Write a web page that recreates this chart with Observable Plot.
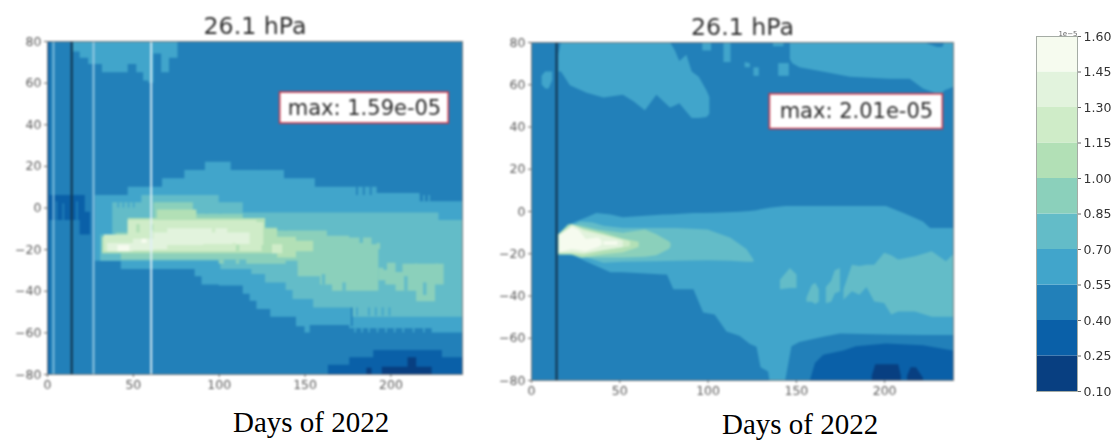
<!DOCTYPE html>
<html><head><meta charset="utf-8">
<script src="https://cdn.jsdelivr.net/npm/d3@7"></script>
<script src="https://cdn.jsdelivr.net/npm/@observablehq/plot@0.6"></script>
<style>
html,body{margin:0;padding:0;background:#fff}
#stage{position:relative;width:1112px;height:442px;overflow:hidden}
#stage>svg,#stage>div.p{position:absolute}
.cap{position:absolute;font-family:"Liberation Serif",serif;font-size:29px;line-height:32px;color:#000;white-space:nowrap}
</style></head><body><div id="stage"></div>
<script>
// colour levels
const levelLower=[0.10,0.25,0.40,0.55,0.70,0.85,1.00,1.15,1.30,1.45];
const levelColors=["#083f81","#0a60a8","#2280b9","#41a5cb","#63bcc8","#8bd0bb","#b2e0b6","#cfecc8","#e2f3dd","#f6fbef"];
const barTicks=[0.10,0.25,0.40,0.55,0.70,0.85,1.00,1.15,1.30,1.45,1.60];
const latTicks=[-80,-60,-40,-20,0,20,40,60,80];
const dayTicks=[0,50,100,150,200];

// LEFT panel: [day, lower lat, upper lat], stepped
const L55cap=[[15,75,80],[19,72,80],[24,69,80],[32,65,80],[47,69,80],[52,65,80],[56,61,80],[59,60,80],[62,74,80],[66.5,65,80],[71,72,80],[76,72,80]];
const L55main=[[28,-25.6,6],[43,-29.6,6],[47,-29.6,10],[67,-29.6,14],[80,-29.6,18],[86,-33,18],[90,-37,18],[92,-37,22],[100,-37.5,22],[107,-37.5,18],[114,-41.5,18],[118,-44.8,18],[122,-48.8,18],[130,-52.5,18],[138,-52.5,14],[145,-57,14],[150,-60,14],[153,-56.5,14],[156,-56.5,10],[176,-58,10],[192,-58,7],[217,-58,3],[224,-60,3],[241.7,-60,3]];
const L70main=[[31,-25.6,-13],[38,-25.6,2.5],[55,-25.6,6],[100,-25.6,2.5],[101,-29.6,2.5],[114,-29.6,-2.4],[119,-32,-2.4],[127,-36,-2.4],[139,-39.6,-2.4],[143,-44,-2.4],[155,-48,-2.4],[178,-52.5,-2.4],[228,-52.5,-6],[241.7,-52.5,-6]];
const L85main=[[33,-22,-14.4],[40,-22,-12],[43,-25,-12],[47,-25,-6.4],[62,-25,2.5],[85,-25,-3],[114,-25,-6.4],[116,-27,-6.4],[127,-27,-9.6],[134,-27,-11],[139,-25.6,-11],[146,-33,-11],[159,-37,-11],[163,-37,-13.6],[166,-40,-13.6],[176,-40,-14.4],[189,-40,-17.6],[193,-40,-17.6]];
const L85east=[[193,-35,-29],[197,-37,-26.5],[203,-40,-31],[207,-40,-27],[215,-45,-27],[226,-37,-27],[231,-37,-27]];
const L100main=[[32,-22,-14],[47,-22,-5],[64,-22,-1],[87,-22,-5],[127,-22,-10],[134,-24,-14],[145,-21,-16],[155,-21,-16]];
const L115main=[[33,-21,-13],[47,-21,-6],[122,-21,-7],[126,-21,-7]];
const L115spot=[[131,-22,-17.6],[137,-22,-17.6]];
const L130main=[[35,-21,-17],[50,-20.5,-15],[62,-20,-12],[70,-18,-10],[91,-17.5,-10],[105,-17.5,-12],[118,-17,-12]];
const L145a=[[41,-21,-18],[48,-21,-18]];
const L145b=[[55,-17,-15],[58,-17,-15]];
const L25blob=[[0,-6,6],[19,-13,6],[22,-13,-2],[25,-13,-2]];
const L25edge=[[0,-80,80],[1.6,-80,80]];
const L25south=[[163.6,-80,-75.6],[176,-80,-72],[190,-80,-68.5],[230,-80,-72],[241.7,-80,-72]];
const L10south=[[195,-80,-76.5],[210,-80,-72],[215,-80,-76.5],[224,-80,-76.5]];
const L10spot=[[186,-80,-77],[189,-80,-77]];
const leftRules=[{d:3.5,c:"#8cc6e2",w:1.6},{d:14.1,c:"#123a55",w:2.2},{d:26.8,c:"#9bcde4",w:1.8},{d:60.4,c:"#e0f0f7",w:1.8}];
// single-column speckles: [first day, last day, lower lat, upper lat]
const L40speck=[[5,6,-6,3],[9,10,-6,2],[17,18,-6,3],[177,178,-57,-44],[180,181,10,6],[184,185,10,6],[188,189,10,6],[122.5,123.5,22,18]];
const L55speck=[[41,42,0,2.5],[44,45,0,2.5],[47,48,0,2.5],[50,51,0,2.5],[180,181,-52,-48],[187,188,-52,-48],[191,192,-52,-48],[195,196,-52,-48],[199,200,-52,-48],[216,217,3,6],[219,220,3,6],[222,223,3,6],[179,180,-60,-57],[183,184,-60,-57],[187,188,-60,-57],[192,193,-60,-57],[197,198,-60,-57],[202,203,-60,-57],[207,208,-60,-57],[213,214,-60,-57],[219,220,-60,-57]];
const L70speck=[[92,94,-3,0],[100,102,-3,-1],[138,140,-11,-6],[176,178,-14,-11],[182,184,-17,-14],[208,210,-40,-33],[219,221,-42,-36],[196,198,-30,-26],[160,162,-37,-32],[172,174,-40,-36]];
const L85speck=[[146,148,-28,-25],[152,154,-30,-27],[192,194,-20,-17],[100,103,-27,-25],[110,112,-27,-25],[190,192,-38,-33],[214,216,-30,-27],[226,228,-30,-27]];
const L115speck=[[76,78,-8,-6],[96,98,-12,-9],[108,110,-20,-17],[120,122,-17,-13]];
const L100speck=[[52,54,-12,-8],[60,62,-11,-8],[110,112,-21,-18],[125,127,-21,-18]];

// RIGHT panel: [day, lower lat, upper lat], linear
const R55patch=[[6,60,64],[8,58,66],[10,58,66],[12,62,66]];
const R55cap=[[15.5,66,74],[17,66,80],[22,59.5,80],[31.5,56,80],[41,53.7,80],[52,55,80],[58,52,80],[64.5,47.7,80],[71,55,80],[78.7,49,80],[81.5,50,76],[84,51,71],[88,47,74],[91,44,66],[95,44,63.5],[99.4,44.5,57],[101,46,54]];
const R55bits=[[[97,76,80],[102,76,80]],[[109,70.5,80],[113,70.5,80]],[[121,68,70.5],[124,68,70]],[[126,64,68],[129,64,68]],[[140,64,70],[146,64,70]],[[137,78,80],[143,78,80]]];
const R55capE=[[146.6,72,80],[148,70,80],[152,68,80],[165,66,80],[180.6,63.5,80],[203,62.6,80],[214.5,62.6,80],[222,58,80],[230,55.5,77.6],[233,56,77.6],[234,57,80],[239,58.7,80]];
const R55main=[[15.5,-20.6,-12],[24,-21,-5.5],[31.5,-24,-3],[37,-26,-1],[45,-29,-1.6],[52,-29,-3],[75,-30,-1.6],[77,-30,-1.6],[80.6,-37,-1.5],[92,-37,-1],[97.5,-48,-1],[104,-49,-0.8],[110.7,-57,-0.6],[118,-59,-0.3],[124,-63,0],[127.7,-64.3,0.4],[130,-74,0.8],[134.3,-76,1.4],[135,-80,1.5],[144,-80,2.4],[147.5,-64,2.4],[152,-62,2.4],[165.5,-59.5,2.4],[175,-58,2.4],[201,-58.5,2.4],[211,-58.6,-1],[222,-58.7,-5],[226,-58.7,-8],[239,-58.7,-8]];
const R70plume=[[15.5,-20.6,-12],[20,-20.8,-8],[27.7,-21,-5],[35,-23,-5.5],[41,-24.5,-7],[52,-24,-8],[71,-23.8,-8],[82.5,-23.5,-8],[100,-23.3,-8.7],[113,-23.5,-12.7],[122,-24,-18],[126,-24,-23]];
const R70a=[[141,-37,-32.5],[146.6,-36.5,-27],[150.4,-36.5,-30]];
const R70b=[[156,-43,-41],[159,-43,-35],[161,-44,-34],[163,-43,-37]];
const R70c=[[167,-43.7,-36],[170,-43,-33],[172,-39,-28],[175,-38,-27]];
const R70main=[[177,-42,-37],[181.7,-38,-25.4],[186,-39.7,-26],[190,-36,-25.4],[194.4,-42.8,-25.4],[200,-43.5,-19.8],[204,-49,-21],[208,-47.6,-23],[217.4,-47.6,-21.4],[227,-50,-19],[235,-50,-23.8],[239,-50,-20.6]];
const R85=[[15.5,-19.8,-11],[21,-20,-6.3],[27.7,-22,-6.8],[38,-22,-8.7],[52,-22,-10.3],[64.5,-21.7,-8.7],[71,-21,-11],[78,-18,-14.3],[79,-17,-15]];
const R100=[[15.5,-20.6,-11],[22.6,-20.5,-6],[29,-22,-8],[41,-20.5,-10.3],[52,-19.5,-13],[61,-17,-14.6]];
const R115=[[15.5,-20,-11],[23,-20,-6.3],[29.6,-20.6,-8.4],[41,-18.6,-11],[56,-16.7,-14.3]];
const R130=[[16,-19.5,-11.5],[24,-19.5,-6.8],[30,-20,-9.5],[41,-18.5,-11.5],[52,-17,-14]];
const R145=[[16,-19.5,-11.5],[23,-18,-7.5],[27,-18.5,-9],[31,-19,-13.3],[38,-17,-12.5],[40,-16,-14]];
const R145b=[[41,-16,-14.3],[49,-16,-14.3]];
const R25south=[[158,-80,-80],[160.8,-80,-72],[165.5,-80,-68],[176.8,-80,-66],[184,-80,-64],[201,-80,-62.7],[222,-80,-63.5],[239,-80,-66]];
const R10a=[[193,-80,-78],[195,-80,-72.5],[208,-80,-72.5],[209.5,-80,-78]];
const R10b=[[213,-80,-78],[215,-80,-74],[218,-80,-74],[222,-80,-79]];
const rightRules=[{d:14.2,c:"#123a55",w:2.2}];

const colorOpt={type:"threshold",domain:levelLower.slice(1),range:levelColors};
const toRows=(arr,v)=>arr.map(([d,lo,hi])=>({d,lo,hi,v}));
const layer=(arr,v,curve)=>Plot.area(toRows(arr,v),{x1:"d",y1:"lo",y2:"hi",fill:"v",curve});
const speck=(arr,v)=>Plot.rect(arr.map(([a,b,lo,hi])=>({a,b,lo,hi,v})),{x1:"a",x2:"b",y1:"lo",y2:"hi",fill:"v"});
const tickStyle={fontFamily:"DejaVu Sans",fontSize:"12.5px",color:"#5a5a5a",background:"transparent",overflow:"visible"};
const blur="blur(0.9px)";

function panel({left,top,width,height,ml,mr,mt,mb,xMax,base,layers,rules,box,label}){
  const svg=Plot.plot({
    width,height,marginLeft:ml,marginRight:mr,marginTop:mt,marginBottom:mb,
    style:tickStyle,
    x:{domain:[0,xMax]},y:{domain:[-80,80]},color:colorOpt,
    marks:[
      Plot.rect([base],{x1:0,x2:xMax,y1:-80,y2:80,fill:d=>d}),
      ...layers,
      Plot.ruleX(rules,{x:"d",stroke:"c",strokeWidth:"w"}),
      Plot.frame({stroke:"#7d7d7d"}),
      Plot.axisX({ticks:dayTicks,tickSize:3,tickPadding:3,label:null,stroke:"#666",fill:"#5a5a5a"}),
      Plot.axisY({ticks:latTicks,tickSize:3,tickPadding:3,label:null,stroke:"#666",fill:"#5a5a5a"}),
      Plot.rect([box],{x1:"x1",x2:"x2",y1:"y1",y2:"y2",fill:"white",stroke:"#c8364a",strokeWidth:1.6}),
      Plot.text([box],{x:d=>(d.x1+d.x2)/2,y:d=>(d.y1+d.y2)/2,text:"text",fontSize:21,fill:"#2a2a2a",dy:0}),
      Plot.text(["26.1 hPa"],{frameAnchor:"top",lineAnchor:"bottom",dy:-8,text:d=>d,fontSize:23.7,fill:"#2f2f2f"})
    ]
  });
  svg.style.left=left+"px";svg.style.top=top+"px";svg.style.filter=blur;
  const st=document.getElementById("stage");st.appendChild(svg);
  const c=document.createElement("div");c.className="cap";c.textContent=label.text;
  c.style.left=label.x+"px";c.style.top=label.y+"px";st.appendChild(c);
}

const S="step-after",N="linear";
panel({left:0,top:0,width:480,height:400,ml:47,mr:18,mt:41,mb:26,xMax:241.7,base:0.40,
  layers:[layer(L25edge,0.25,S),layer(L25blob,0.25,S),layer(L55cap,0.55,S),layer(L55main,0.55,S),speck(L40speck,0.40),layer(L70main,0.70,S),speck(L55speck,0.55),layer(L85main,0.85,S),layer(L85east,0.85,S),speck(L70speck,0.70),layer(L100main,1.00,S),speck(L85speck,0.85),layer(L115main,1.15,S),layer(L115spot,1.15,S),speck(L100speck,1.00),layer(L130main,1.30,S),speck(L115speck,1.15),layer(L145a,1.45,S),layer(L145b,1.45,S),layer(L25south,0.25,S),layer(L10south,0.10,S),layer(L10spot,0.10,S)],
  rules:leftRules,box:{x1:135.5,x2:233.7,y1:40.6,y2:55.5,text:"max: 1.59e-05"},label:{text:"Days of 2022",x:233,y:406}});

panel({left:490,top:0,width:480,height:410,ml:41,mr:17,mt:42,mb:30,xMax:239,base:0.40,
  layers:[layer(R55patch,0.55,N),layer(R55cap,0.55,N),...R55bits.map(b=>layer(b,0.55,N)),layer(R55capE,0.55,N),layer(R55main,0.55,N),layer(R70plume,0.70,N),layer(R70a,0.70,N),layer(R70b,0.70,N),layer(R70c,0.70,N),layer(R70main,0.70,N),layer(R85,0.85,N),layer(R100,1.00,N),layer(R115,1.15,N),layer(R130,1.30,N),layer(R145,1.45,N),layer(R145b,1.45,N),layer(R25south,0.25,N),layer(R10a,0.10,N),layer(R10b,0.10,N)],
  rules:rightRules,box:{x1:135,x2:233,y1:39,y2:55.5,text:"max: 2.01e-05"},label:{text:"Days of 2022",x:722,y:408}});

const bar=Plot.plot({
  width:112,height:400,marginLeft:36,marginRight:35,marginTop:36,marginBottom:9,
  style:{...tickStyle,color:"#333",fontSize:"12.5px"},
  x:{axis:null},y:{domain:[0.10,1.60]},color:colorOpt,
  marks:[
    Plot.rect(levelLower,{y1:d=>d,y2:d=>d+0.15,fill:d=>d}),
    Plot.frame({stroke:"#a5aca5"}),
    Plot.axisY({anchor:"right",ticks:barTicks,tickFormat:d3.format(".2f"),tickSize:3,tickPadding:3,label:null,stroke:"#666",fill:"#333"}),
    Plot.text(["1e\u22125"],{frameAnchor:"top-right",lineAnchor:"bottom",textAnchor:"end",dy:-1,text:d=>d,fontSize:7,fill:"#666"})
  ]
});
bar.style.left="1000px";bar.style.top="0px";bar.style.filter="blur(0.6px)";
document.getElementById("stage").appendChild(bar);
</script></body></html>
